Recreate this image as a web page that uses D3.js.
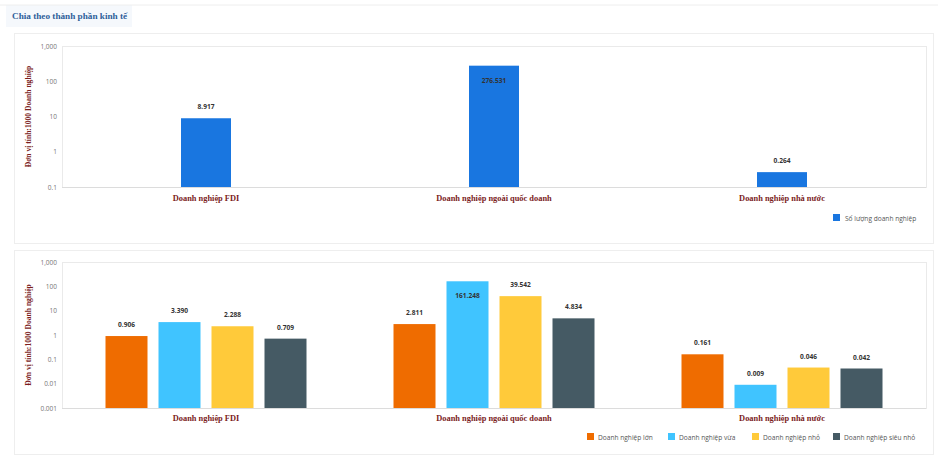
<!DOCTYPE html>
<html><head><meta charset="utf-8">
<script src="https://cdn.jsdelivr.net/npm/d3@7"></script>
<style>
html,body{margin:0;padding:0;background:#fff;}
svg{display:block;}
</style></head>
<body>
<svg id="c" width="938" height="458"></svg>
<script>
const title = "Chia theo thành phần kinh tế";
const categories = ["Doanh nghiệp FDI", "Doanh nghiệp ngoài quốc doanh", "Doanh nghiệp nhà nước"];
const yTitle = "Đơn vị tính:1000 Doanh nghiệp";
const totalName = "Số lượng doanh nghiệp";
const totalValues = [8.917, 276.531, 0.264];
const sizeNames = ["Doanh nghiệp lớn", "Doanh nghiệp vừa", "Doanh nghiệp nhỏ", "Doanh nghiệp siêu nhỏ"];
const sizeLarge = [0.906, 2.811, 0.161];
const sizeMedium = [3.390, 161.248, 0.009];
const sizeSmall = [2.288, 39.542, 0.046];
const sizeMicro = [0.709, 4.834, 0.042];
const topTicks = [0.1, 1, 10, 100, 1000];
const bottomTicks = [0.001, 0.01, 0.1, 1, 10, 100, 1000];
const sizeColors = ["#ef6c00", "#40c4ff", "#ffca3a", "#455a64"];
const totalColor = "#1976e0";

const svg = d3.select("#c");
const labelColor = "#7b1d1d";
const serif = "'Liberation Serif','DejaVu Serif',serif";
const sans = "'Open Sans','Liberation Sans',Arial,sans-serif";

// title
svg.append("rect").attr("x", 6).attr("y", 5).attr("width", 126).attr("height", 22).attr("fill", "#f5f8fc");
svg.append("line").attr("x1", 0).attr("x2", 938).attr("y1", 5).attr("y2", 5).attr("stroke", "#eeeeee");
svg.append("text").attr("x", 12).attr("y", 19).text(title)
  .attr("font-family", serif).attr("font-weight", "bold").attr("font-size", 9.2).attr("fill", "#2f5f9a");

// panels
svg.append("rect").attr("x", 14.5).attr("y", 33.5).attr("width", 919).attr("height", 210).attr("fill", "none").attr("stroke", "#eeeeee");
svg.append("rect").attr("x", 14.5).attr("y", 250.5).attr("width", 919).attr("height", 204).attr("fill", "none").attr("stroke", "#eeeeee");

const plotL = 62, plotR = 926;
const fmt = v => v >= 1 ? d3.format(",")(v) : String(v);
const valFmt = d3.format(".3f");

function drawAxis(y, ticks, top, bottom) {
  svg.append("rect").attr("x", plotL + 0.5).attr("y", top + 0.5).attr("width", plotR - plotL).attr("height", bottom - top)
    .attr("fill", "none").attr("stroke", "#eaeaea");
  const g = svg.append("g").attr("transform", `translate(${plotL},0)`)
    .call(d3.axisLeft(y).tickValues(ticks).tickFormat(fmt).tickSize(0).tickPadding(5));
  g.select(".domain").remove();
  g.selectAll("text").attr("font-family", sans).attr("font-size", 6.5).attr("fill", "#777");
  svg.append("line").attr("x1", plotL).attr("x2", plotR).attr("y1", bottom + 0.5).attr("y2", bottom + 0.5).attr("stroke", "#dcdcdc");
  svg.append("text").attr("transform", `translate(31,${(top + bottom) / 2}) rotate(-90)`)
    .attr("text-anchor", "middle").attr("font-family", serif).attr("font-weight", "bold")
    .attr("font-size", 7.6).attr("fill", labelColor).text(yTitle);
}

function catLabels(x, yPos) {
  svg.append("g").selectAll("text").data(categories).join("text")
    .attr("x", d => x(d) + x.bandwidth() / 2).attr("y", yPos)
    .attr("text-anchor", "middle").attr("font-family", serif).attr("font-weight", "bold")
    .attr("font-size", 8.4).attr("fill", labelColor).text(d => d);
}

function valueLabel(g, cx, yTop, v, plotTop) {
  const inside = (yTop - 14) < plotTop + 10;
  g.append("text").attr("x", cx).attr("y", inside ? yTop + 17 : yTop - 9)
    .attr("text-anchor", "middle").attr("font-family", sans).attr("font-weight", "bold")
    .attr("font-size", 6.6).attr("fill", "#333")
    .attr("stroke", inside ? "none" : "#fff").attr("stroke-width", 2).attr("paint-order", "stroke")
    .text(valFmt(v));
}

// ---- top chart
const x1 = d3.scaleBand().domain(categories).range([plotL, plotR]).paddingInner(0.8264).paddingOuter(0.4132);
const y1 = d3.scaleLog().domain([0.1, 1000]).range([187, 46]);
drawAxis(y1, topTicks, 46, 187);
const gTop = svg.append("g");
categories.forEach((c, i) => {
  const v = totalValues[i];
  gTop.append("rect").attr("x", x1(c)).attr("y", y1(v)).attr("width", x1.bandwidth())
    .attr("height", y1(0.1) - y1(v)).attr("fill", totalColor);
  valueLabel(gTop, x1(c) + x1.bandwidth() / 2, y1(v), v, 46);
});
catLabels(x1, 201);
// top legend
svg.append("rect").attr("x", 833).attr("y", 214).attr("width", 7).attr("height", 7).attr("fill", totalColor);
svg.append("text").attr("x", 845).attr("y", 220.5).attr("font-family", sans).attr("font-size", 6.6).attr("fill", "#555").text(totalName);

// ---- bottom chart
const x2 = d3.scaleBand().domain(categories).range([plotL, plotR]).padding(0);
const sub = d3.scaleBand().domain(sizeNames).range([-106, 106]).paddingInner(11 / 53).paddingOuter(5.5 / 53);
const y2 = d3.scaleLog().domain([0.001, 1000]).range([408, 262]);
drawAxis(y2, bottomTicks, 262, 408);
const sizeSeries = [sizeLarge, sizeMedium, sizeSmall, sizeMicro];
const gBot = svg.append("g");
categories.forEach((c, i) => {
  const cx = x2(c) + x2.bandwidth() / 2;
  sizeNames.forEach((s, j) => {
    const v = sizeSeries[j][i];
    const bx = cx + sub(s);
    gBot.append("rect").attr("x", bx).attr("y", y2(v)).attr("width", sub.bandwidth())
      .attr("height", y2(0.001) - y2(v)).attr("fill", sizeColors[j]);
    valueLabel(gBot, bx + sub.bandwidth() / 2, y2(v), v, 262);
  });
});
catLabels(x2, 421);
// bottom legend
const legX = [587, 668, 752, 833];
sizeNames.forEach((s, j) => {
  svg.append("rect").attr("x", legX[j]).attr("y", 433).attr("width", 7).attr("height", 7).attr("fill", sizeColors[j]);
  svg.append("text").attr("x", legX[j] + 11).attr("y", 439.5).attr("font-family", sans).attr("font-size", 6.6).attr("fill", "#555").text(s);
});
</script>
</body></html>
